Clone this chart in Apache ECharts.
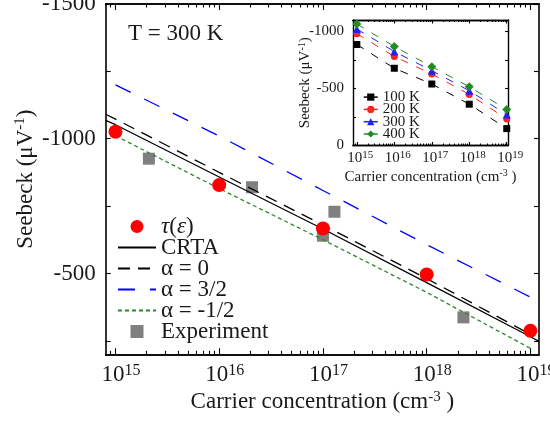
<!DOCTYPE html>
<html>
<head>
<meta charset="utf-8">
<script src="https://cdn.jsdelivr.net/npm/echarts@6/dist/echarts.min.js"></script>
<style>html,body{margin:0;padding:0;background:#fff;}#c{width:550px;height:421px;}</style>
</head>
<body>
<div id="c"></div>
<script>
// ---------- data ----------
const concDecades = [1e15, 1e16, 1e17, 1e18, 1e19];
const tauE300K = [-1026, -828, -667, -496, -287];
const expConc = [2.1e15, 2.07e16, 1.0e17, 1.29e17, 2.26e18];
const expSeebeck = [-926, -820, -640, -729, -337];
const lineConc = [8.05e14, 1e15, 1e16, 1e17, 1e18, 1e19, 1.21e19];
const crta = [-1068, -1052, -858, -665, -466, -265, -248];
const alpha0 = [-1091, -1073, -875, -680, -481, -274, null];
const alpha32 = [null, -1200, -1010, -808, -607, -412, null];
const alphaM12 = [null, -1011, -815, -625, -430, -222, null];

const insetConc = [1e15, 1e16, 1e17, 1e18, 1e19];
const s100K = [-885, -677, -539, -362, -148];
const s200K = [-980, -780, -627, -448, -233];
const s300K = [-1021, -824, -656, -480, -271];
const s400K = [-1065, -868, -691, -515, -315];

const mainYLabels = [-1500, -1000, -500];
const mainYTicks = [-1500, -1250, -1000, -750, -500, -250];
const insetYLabels = [-1000, -500, 0];
const insetYTicks = [-1000, -750, -500, -250, 0];
const xDecadeLabels = [1e15, 1e16, 1e17, 1e18, 1e19];

// ---------- helpers ----------
const FONT = 'Liberation Serif';
const TXT = '#1a1a1a';
const pair = (xs, ys) => xs.map((x, i) => [x, ys[i]]);
function minorTicks(lo, hi) {
  const out = [];
  for (let e = 13; e <= 20; e++) {
    for (let k = 2; k <= 9; k++) {
      const v = k * Math.pow(10, e);
      if (v >= lo && v <= hi) out.push(v);
    }
  }
  return out;
}
function logX(gridIndex, min, max, position, ticks, len, lw, extra) {
  return Object.assign({
    type: 'log', logBase: 10, gridIndex: gridIndex, min: min, max: max, position: position,
    nameMoveOverlap: false,
    axisLine: { show: true, onZero: false, lineStyle: { color: '#000', width: lw } },
    axisTick: { show: true, inside: true, length: len, customValues: ticks, lineStyle: { color: '#000', width: 1.1 } },
    axisLabel: { show: false },
    splitLine: { show: false }, minorTick: { show: false }, minorSplitLine: { show: false }
  }, extra || {});
}
function valY(gridIndex, min, max, position, ticks, len, lw, extra) {
  return Object.assign({
    type: 'value', inverse: true, gridIndex: gridIndex, min: min, max: max, position: position,
    nameMoveOverlap: false,
    axisLine: { show: true, onZero: false, lineStyle: { color: '#000', width: lw } },
    axisTick: { show: true, inside: true, length: len, customValues: ticks, lineStyle: { color: '#000', width: 1.1 } },
    axisLabel: { show: false },
    splitLine: { show: false }
  }, extra || {});
}

const mainXMin = 8.05e14, mainXMax = 1.21e19;
const insXMin = 7.9e14, insXMax = 1.08e19;
const mainMinor = minorTicks(mainXMin, mainXMax);
const insMinor = minorTicks(insXMin, insXMax);
const supFmt = v => '{b|10}{s|' + Math.round(Math.log10(v)) + '}';
const noSym = { opacity: 0 };

const chart = echarts.init(document.getElementById('c'), null, { renderer: 'canvas' });
const option = {
  animation: false,
  backgroundColor: '#fff',
  textStyle: { fontFamily: FONT, color: TXT },
  title: {
    text: 'T = 300 K', left: 128, top: 22, padding: 0,
    textStyle: { fontFamily: FONT, fontSize: 23, fontWeight: 'normal', color: TXT }
  },
  grid: [
    { left: 105.7, top: 4, right: 11, bottom: 66.7, outerBoundsMode: 'none', containLabel: false },
    { left: 353, top: 20, right: 42, bottom: 275.5, outerBoundsMode: 'none', containLabel: false,
      show: true, backgroundColor: '#fff', borderWidth: 0 }
  ],
  legend: [
    {
      orient: 'vertical', left: 117, top: 215, padding: 0, itemGap: -2,
      itemWidth: 38, itemHeight: 13, selectedMode: false,
      data: [{ name: 'τ(ε)', icon: 'circle' },
             { name: 'CRTA', itemStyle: noSym },
             { name: 'α = 0', itemStyle: noSym },
             { name: 'α = 3/2', itemStyle: noSym },
             { name: 'α = -1/2', itemStyle: noSym },
             { name: 'Experiment', icon: 'path://M0,0H10V10H0Z' }],
      formatter: n => n === 'τ(ε)' ? '{i|τ}({i|ε})' : n,
      textStyle: { fontFamily: FONT, fontSize: 23, lineHeight: 21, color: TXT,
        rich: { i: { fontFamily: FONT, fontStyle: 'italic', fontSize: 23, lineHeight: 21, color: TXT } } }
    },
    {
      orient: 'vertical', left: 363, top: 89.6, padding: 0, itemGap: -2.7,
      itemWidth: 14, itemHeight: 9, selectedMode: false,
      data: ['100 K', '200 K', '300 K', '400 K'],
      lineStyle: { type: 'solid', width: 1.5 },
      textStyle: { fontFamily: FONT, fontSize: 15, lineHeight: 12.7, color: TXT }
    }
  ],
  xAxis: [
    logX(0, mainXMin, mainXMax, 'bottom', xDecadeLabels, 6, 1.6, {
      name: 'Carrier concentration (cm{s|-3} )', nameLocation: 'middle', nameGap: 35,
      nameTextStyle: { fontFamily: FONT, fontSize: 23, lineHeight: 26, color: TXT,
        rich: { s: { fontFamily: FONT, fontSize: 15, lineHeight: 15, verticalAlign: 'top', color: TXT } } },
      axisLabel: { show: true, customValues: xDecadeLabels, formatter: supFmt, margin: 8, padding: [0, 0, 0, 11],
        rich: { b: { fontFamily: FONT, fontSize: 23, lineHeight: 26, color: TXT },
                s: { fontFamily: FONT, fontSize: 16, lineHeight: 16, verticalAlign: 'top', color: TXT } } }
    }),
    logX(0, mainXMin, mainXMax, 'bottom', mainMinor, 3.5, 1.6),
    logX(0, mainXMin, mainXMax, 'top', xDecadeLabels, 6, 1.6),
    logX(0, mainXMin, mainXMax, 'top', mainMinor, 3.5, 1.6),
    logX(1, insXMin, insXMax, 'bottom', xDecadeLabels, 3.5, 1.4, {
      name: 'Carrier concentration (cm{s|-3} )', nameLocation: 'middle', nameGap: 23,
      nameTextStyle: { fontFamily: FONT, fontSize: 15, lineHeight: 17, color: TXT,
        rich: { s: { fontFamily: FONT, fontSize: 10, lineHeight: 10, verticalAlign: 'top', color: TXT } } },
      axisLabel: { show: true, customValues: xDecadeLabels, formatter: supFmt, margin: 4, padding: [0, 0, 0, 7],
        rich: { b: { fontFamily: FONT, fontSize: 15, lineHeight: 17, color: TXT },
                s: { fontFamily: FONT, fontSize: 11, lineHeight: 11, verticalAlign: 'top', color: TXT } } }
    }),
    logX(1, insXMin, insXMax, 'bottom', insMinor, 2, 1.4),
    logX(1, insXMin, insXMax, 'top', xDecadeLabels, 3.5, 1.4),
    logX(1, insXMin, insXMax, 'top', insMinor, 2, 1.4)
  ],
  yAxis: [
    valY(0, -1500, -200, 'left', mainYTicks, 5, 1.6, {
      name: 'Seebeck (μV{s|-1})', nameLocation: 'middle', nameGap: 67,
      nameTextStyle: { fontFamily: FONT, fontSize: 23, lineHeight: 26, color: TXT,
        rich: { s: { fontFamily: FONT, fontSize: 15, lineHeight: 15, verticalAlign: 'top', color: TXT } } },
      axisLabel: { show: true, customValues: mainYLabels, formatter: v => String(v), margin: 10,
        fontFamily: FONT, fontSize: 23, color: TXT }
    }),
    valY(0, -1500, -200, 'right', mainYTicks, 5, 1.6),
    valY(1, -1100, 0, 'left', insetYTicks, 3, 1.4, {
      name: 'Seebeck (μV{s|-1})', nameLocation: 'middle', nameGap: 39,
      nameTextStyle: { fontFamily: FONT, fontSize: 15, lineHeight: 17, color: TXT,
        rich: { s: { fontFamily: FONT, fontSize: 10, lineHeight: 10, verticalAlign: 'top', color: TXT } } },
      axisLabel: { show: true, customValues: insetYLabels, formatter: v => String(v), margin: 9,
        fontFamily: FONT, fontSize: 15, color: TXT }
    }),
    valY(1, -1100, 0, 'right', insetYTicks, 3, 1.4)
  ],
  series: [
    { name: 'Experiment', type: 'scatter', xAxisIndex: 0, yAxisIndex: 0, z: 2,
      symbol: 'rect', symbolSize: 12, itemStyle: { color: '#808080', opacity: 1 },
      data: pair(expConc, expSeebeck) },
    { name: 'CRTA', type: 'line', xAxisIndex: 0, yAxisIndex: 0, z: 3, symbol: 'none',
      lineStyle: { color: '#000', width: 1.3, type: 'solid' }, itemStyle: { color: '#000' },
      data: pair(lineConc, crta) },
    { name: 'α = 0', type: 'line', xAxisIndex: 0, yAxisIndex: 0, z: 3, symbol: 'none',
      lineStyle: { color: '#000', width: 1.3, type: [12, 8] }, itemStyle: { color: '#000' },
      data: pair(lineConc, alpha0) },
    { name: 'α = 3/2', type: 'line', xAxisIndex: 0, yAxisIndex: 0, z: 3, symbol: 'none',
      lineStyle: { color: '#0000ff', width: 1.3, type: [17, 15] }, itemStyle: { color: '#0000ff' },
      data: pair(lineConc, alpha32) },
    { name: 'α = -1/2', type: 'line', xAxisIndex: 0, yAxisIndex: 0, z: 3, symbol: 'none',
      lineStyle: { color: '#2a8a2a', width: 1.3, type: [4, 3] }, itemStyle: { color: '#2a8a2a' },
      data: pair(lineConc, alphaM12) },
    { name: 'τ(ε)', type: 'scatter', xAxisIndex: 0, yAxisIndex: 0, z: 4,
      symbol: 'circle', symbolSize: 14, itemStyle: { color: '#ff0000', opacity: 1 },
      data: pair(concDecades, tauE300K) },

    { name: '100 K', type: 'line', xAxisIndex: 4, yAxisIndex: 2, z: 5, symbol: 'rect', symbolSize: 7,
      lineStyle: { color: '#000', width: 1, type: [8, 9] }, itemStyle: { color: '#000' },
      data: pair(insetConc, s100K) },
    { name: '200 K', type: 'line', xAxisIndex: 4, yAxisIndex: 2, z: 5, symbol: 'circle', symbolSize: 7,
      lineStyle: { color: '#ff2020', width: 1, type: [8, 9] }, itemStyle: { color: '#ff2020' },
      data: pair(insetConc, s200K) },
    { name: '300 K', type: 'line', xAxisIndex: 4, yAxisIndex: 2, z: 5, symbol: 'triangle', symbolSize: 8,
      lineStyle: { color: '#1f1fff', width: 1, type: [8, 9] }, itemStyle: { color: '#1f1fff' },
      data: pair(insetConc, s300K) },
    { name: '400 K', type: 'line', xAxisIndex: 4, yAxisIndex: 2, z: 5, symbol: 'diamond', symbolSize: 9,
      lineStyle: { color: '#228b22', width: 1, type: [8, 9] }, itemStyle: { color: '#228b22' },
      data: pair(insetConc, s400K) }
  ]
};
chart.setOption(option);
</script>
</body>
</html>
